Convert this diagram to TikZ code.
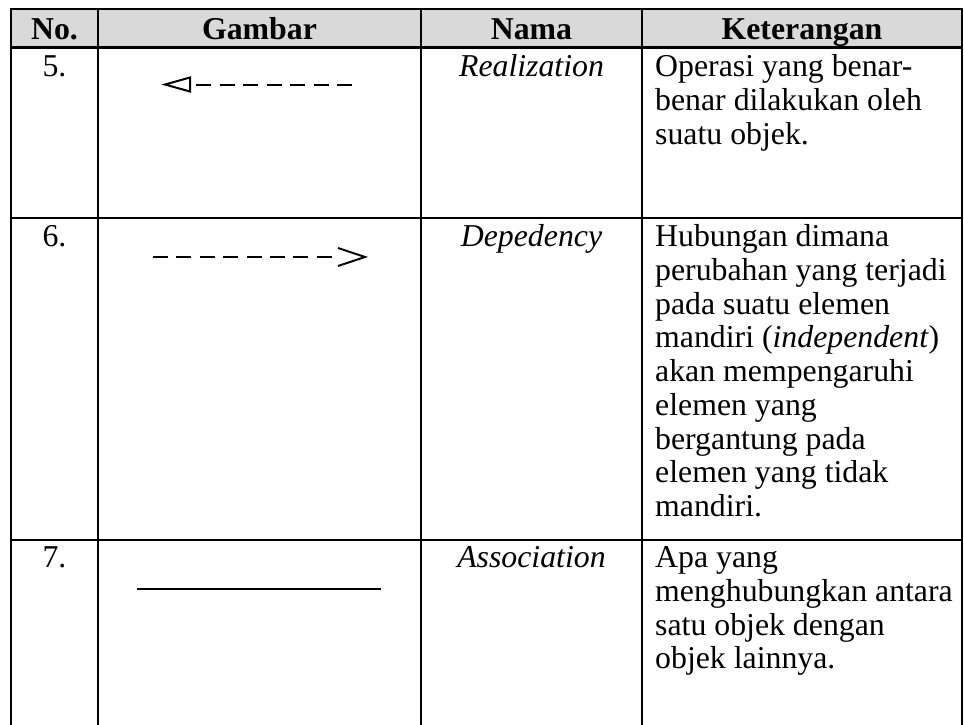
\documentclass[tikz,border=0pt]{standalone}
\usepackage{fontspec}
\setmainfont{Liberation Serif}
\definecolor{headgray}{HTML}{D9D9D9}
\tikzset{
  txt/.style={inner sep=0pt, font=\fontsize{31.8}{35}\selectfont},
  hdr/.style={inner sep=0pt, font=\fontsize{31.8}{35}\selectfont\bfseries, anchor=base},
  rule/.style={line width=2.6pt, line cap=rect},
  sym/.style={line width=2pt},
}
\newcommand\celllines[4]{%
  \foreach \t [count=\i] in {#4}
    \node[txt, anchor=base west] (#1-\i) at (#2, {#3+(\i-1)*33.75}) {\t};}
\begin{document}
\begin{tikzpicture}[x=1pt,y=-1pt]
\useasboundingbox (0,0) rectangle (964,724);
% header background
\fill[headgray] (11,9) rectangle (962,47.5);
% horizontal rules
\draw[rule] (11,9) -- (962,9);
\draw[rule] (11,47.5) -- (962,47.5);
\draw[rule] (11,218) -- (962,218);
\draw[rule] (11,540) -- (962,540);
% vertical rules
\foreach \x in {11,98,421,642,962}
  \draw[rule] (\x,9) -- (\x,726);
% header
\node[hdr] (h1) at (54.5,39.5) {No.};
\node[hdr] (h2) at (259.5,39.5) {Gambar};
\node[hdr] (h3) at (531.5,39.5) {Nama};
\node[hdr] (h4) at (802,39.5) {Keterangan};
% row 5
\node[txt, anchor=base] (n5) at (54.5,76.5) {5.};
\node[txt, anchor=base] (m5) at (531.5,76.5) {\itshape Realization};
\celllines{k5}{655}{76.5}{Operasi yang benar-,benar dilakukan oleh,suatu objek.}
\coordinate (r5tip) at (165,84.5);
\coordinate (r5s) at (196,84.5);
\coordinate (r5e) at (352,84.5);
\draw[sym, dash pattern=on 15pt off 8.5pt] (r5s) -- (r5e);
\draw[sym, line join=miter] ([shift={(25,-7)}]r5tip) -- (r5tip) -- ([shift={(25,7)}]r5tip) -- cycle;
% row 6
\node[txt, anchor=base] (n6) at (54.5,246.5) {6.};
\node[txt, anchor=base] (m6) at (531.5,246.5) {\itshape Depedency};
\celllines{k6}{655}{246.5}{Hubungan dimana,perubahan yang terjadi,pada suatu elemen,mandiri (\textit{independent}),akan mempengaruhi,elemen yang,bergantung pada,elemen yang tidak,mandiri.}
\coordinate (d6s) at (153,257);
\coordinate (d6e) at (332,257);
\coordinate (d6tip) at (365,257);
\draw[sym, dash pattern=on 15pt off 8.4pt] (d6s) -- (d6e);
\draw[sym, line join=miter] ([shift={(-27,-9)}]d6tip) -- (d6tip) -- ([shift={(-27,9)}]d6tip);
% row 7
\node[txt, anchor=base] (n7) at (54.5,567.5) {7.};
\node[txt, anchor=base] (m7) at (531.5,567.5) {\itshape Association};
\celllines{k7}{655}{567.5}{Apa yang,menghubungkan antara,satu objek dengan,objek lainnya.}
\coordinate (a7s) at (137,589);
\coordinate (a7e) at (381,589);
\draw[sym] (a7s) -- (a7e);
\end{tikzpicture}
\end{document}
